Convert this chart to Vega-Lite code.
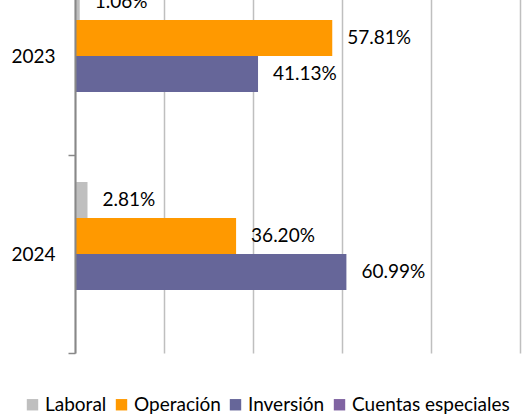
{
  "$schema": "https://vega.github.io/schema/vega-lite/v6.json",
  "width": 445,
  "height": 396,
  "autosize": {"type": "none"},
  "padding": {"left": 75, "top": -43, "right": 4, "bottom": 63},
  "background": "white",
  "config": {"view": {"stroke": null}, "font": "Lato"},
  "data": {
    "values": [
      {"year": "2023", "category": "Laboral", "value": 0.0106},
      {"year": "2023", "category": "Operación", "value": 0.5781},
      {"year": "2023", "category": "Inversión", "value": 0.4113},
      {"year": "2023", "category": "Cuentas especiales", "value": 0},
      {"year": "2024", "category": "Laboral", "value": 0.0281},
      {"year": "2024", "category": "Operación", "value": 0.362},
      {"year": "2024", "category": "Inversión", "value": 0.6099},
      {"year": "2024", "category": "Cuentas especiales", "value": 0}
    ]
  },
  "encoding": {
    "y": {
      "field": "year",
      "type": "nominal",
      "scale": {"paddingInner": 0, "paddingOuter": 0},
      "axis": {
        "title": null,
        "domainColor": "#888888",
        "domainWidth": 2,
        "tickBand": "extent",
        "tickColor": "#888888",
        "tickSize": 7,
        "tickWidth": 1.5,
        "labelFontSize": 19,
        "labelColor": "#000000",
        "labelPadding": 13,
        "grid": false,
        "zindex": 2
      }
    },
    "yOffset": {
      "field": "category",
      "type": "nominal",
      "sort": ["Laboral", "Operación", "Inversión", "Cuentas especiales"],
      "scale": {"paddingInner": 0, "paddingOuter": 0.75}
    },
    "x": {
      "field": "value",
      "type": "quantitative",
      "scale": {"domain": [0, 1]},
      "axis": {
        "title": null,
        "values": [0, 0.2, 0.4, 0.6, 0.8, 1],
        "labels": false,
        "ticks": false,
        "domain": false,
        "grid": true,
        "gridColor": "#BFBFBF",
        "gridWidth": 1.5,
        "gridOpacity": 1
      }
    }
  },
  "layer": [
    {
      "mark": {"type": "bar"},
      "encoding": {
        "color": {
          "field": "category",
          "type": "nominal",
          "sort": ["Laboral", "Operación", "Inversión", "Cuentas especiales"],
          "scale": {
            "domain": ["Laboral", "Operación", "Inversión", "Cuentas especiales"],
            "range": ["#BFBFBF", "#FF9900", "#666699", "#8064A2"]
          },
          "legend": {
            "title": null,
            "orient": "none",
            "direction": "horizontal",
            "legendX": -52,
            "legendY": 438,
            "symbolType": "square",
            "symbolSize": 130,
            "symbolStrokeWidth": 0,
            "symbolOpacity": 1,
            "labelFontSize": 19,
            "labelColor": "#000000",
            "labelOffset": 3,
            "columnPadding": 5
          }
        }
      }
    },
    {
      "transform": [{"filter": "datum.value > 0"}],
      "mark": {"type": "text", "align": "left", "baseline": "middle", "dx": 15, "fontSize": 19, "color": "#000000"},
      "encoding": {
        "text": {"field": "value", "type": "quantitative", "format": ".2%"}
      }
    }
  ]
}
